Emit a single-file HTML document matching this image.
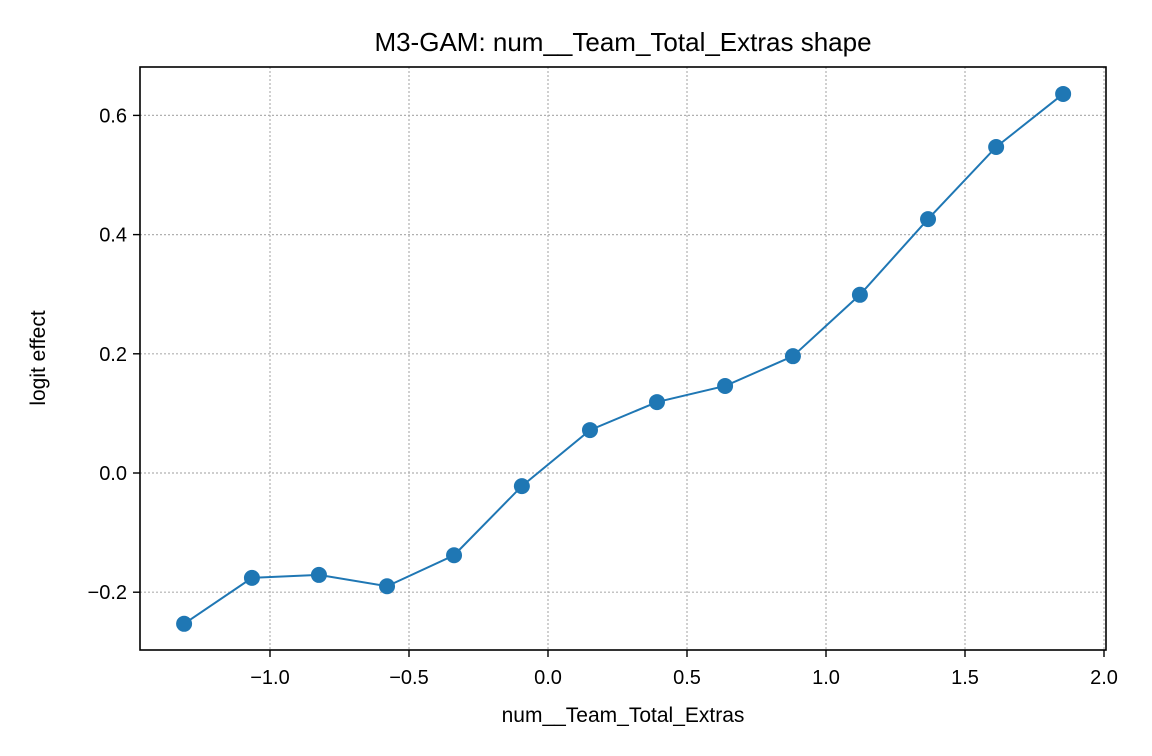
<!DOCTYPE html>
<html><head><meta charset="utf-8">
<style>
html,body{margin:0;padding:0;background:#fff;}
svg{display:block;font-family:"Liberation Sans","DejaVu Sans",sans-serif;}
</style></head>
<body>
<svg id="chart" width="1152" height="756" viewBox="0 0 1152 756">
<text x="623" y="51" text-anchor="middle" font-size="26" fill="#000">M3-GAM: num__Team_Total_Extras shape</text>
<g id="grid"></g>
<g id="ticks"></g>
<g id="series"></g>
<rect x="140" y="67" width="966" height="583" fill="none" stroke="#000" stroke-width="1.6"/>
<text x="623" y="722" text-anchor="middle" font-size="21">num__Team_Total_Extras</text>
<text transform="translate(45,358) rotate(-90)" text-anchor="middle" font-size="21">logit effect</text>
</svg>
<script>
const xValues=[-1.309,-1.065,-0.824,-0.579,-0.338,-0.094,0.151,0.392,0.637,0.881,1.122,1.367,1.612,1.853];
const yValues=[-0.253,-0.176,-0.171,-0.190,-0.138,-0.022,0.072,0.119,0.146,0.196,0.299,0.426,0.547,0.636];
const xTicks=[-1.0,-0.5,0.0,0.5,1.0,1.5,2.0];
const yTicks=[-0.2,0.0,0.2,0.4,0.6];
const NS="http://www.w3.org/2000/svg";
function sx(v){return 548+v*278;}
function sy(v){return 473-v*596;}
function mk(tag,attrs,parent){const e=document.createElementNS(NS,tag);for(const k in attrs)e.setAttribute(k,attrs[k]);parent.appendChild(e);return e;}
function fmt(v){const s=v.toFixed(1);return v<0?"\u2212"+s.slice(1):s;}
const grid=document.getElementById('grid'),ticks=document.getElementById('ticks'),series=document.getElementById('series');
xTicks.forEach(t=>{
 const x=sx(t);
 const g=mk('line',{x1:x,x2:x,y1:67,y2:650,stroke:'#b0b0b0','stroke-width':1.2,'stroke-dasharray':'2,2'},grid);
 
 
 const l=mk('line',{x1:x,x2:x,y1:650,y2:657,stroke:'#000','stroke-width':1.4},ticks);
 
 
 const tx=mk('text',{x:x,y:684,'text-anchor':'middle','font-size':20},ticks);
 tx.textContent=fmt(t);
 
 
});
yTicks.forEach(t=>{
 const y=sy(t);
 const g=mk('line',{x1:140,x2:1106,y1:y,y2:y,stroke:'#b0b0b0','stroke-width':1.2,'stroke-dasharray':'2,2'},grid);
 
 
 const l=mk('line',{x1:133,x2:140,y1:y,y2:y,stroke:'#000','stroke-width':1.4},ticks);
 
 
 const tx=mk('text',{x:127,y:y+7,'text-anchor':'end','font-size':20},ticks);
 tx.textContent=fmt(t);
 
 
});
const pts=xValues.map((x,i)=>sx(x)+","+sy(yValues[i])).join(" ");
const pl=mk('polyline',{points:pts,fill:'none',stroke:'#1f77b4','stroke-width':2},series);


xValues.forEach((x,i)=>{
 const c=mk('circle',{cx:sx(x),cy:sy(yValues[i]),r:8,fill:'#1f77b4'},series);
 
 
});
</script>
</body></html>
